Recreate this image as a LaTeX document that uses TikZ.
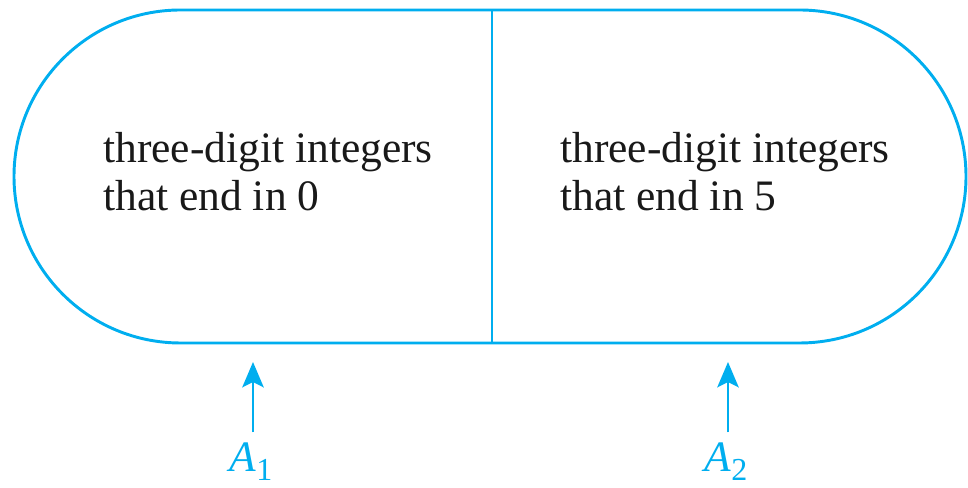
\documentclass[tikz,border=0pt]{standalone}
\usepackage{fontspec}
\setmainfont{Liberation Serif}
\usetikzlibrary{arrows.meta, positioning}
\definecolor{setblue}{RGB}{0,174,239}
\newcommand{\setsub}[1]{\raisebox{-0.2em}{\fontsize{24}{24}\selectfont #1}}

\begin{document}
\begin{tikzpicture}[
    x=0.75pt, y=0.75pt,
    font=\fontsize{32.6}{36}\selectfont,
    outline/.style={draw=setblue, line width=2.2pt},
    settext/.style={align=left, anchor=north west, inner sep=0pt, text=black!90},
    arrow/.style={-{Stealth[length=19pt, width=16pt, inset=4pt]}, setblue, line width=2.2pt, shorten <=8pt},
    setlabel/.style={text=setblue, inner sep=0pt, anchor=base}
]
\useasboundingbox (0,0) rectangle (968,488);

% Stadium outline with the divider
\coordinate (divtop) at (492,478);
\coordinate (divbot) at (492,145);
\draw [outline] (180.5,478) -- (799.5,478) arc[start angle=90, end angle=-90, radius=166.5]
    -- (180.5,145) arc[start angle=270, end angle=90, radius=166.5] -- cycle;
\draw [outline] (divtop) -- (divbot);

% The two parts
\node (end0) [settext] at (103,356) {three-digit integers\\that end in 0};
\node (end5) [settext] at (560,356) {three-digit integers\\that end in 5};

% Labels and arrows
\coordinate (tip1) at (253,126);
\coordinate (tip2) at (728,126);
\node (A1) [setlabel] at (251,16) {\textit{A}\setsub{1}};
\node (A2) [setlabel] at (726,16) {\textit{A}\setsub{2}};
\draw [arrow] (A1.north -| tip1) -- (tip1);
\draw [arrow] (A2.north -| tip2) -- (tip2);
\end{tikzpicture}
\end{document}
